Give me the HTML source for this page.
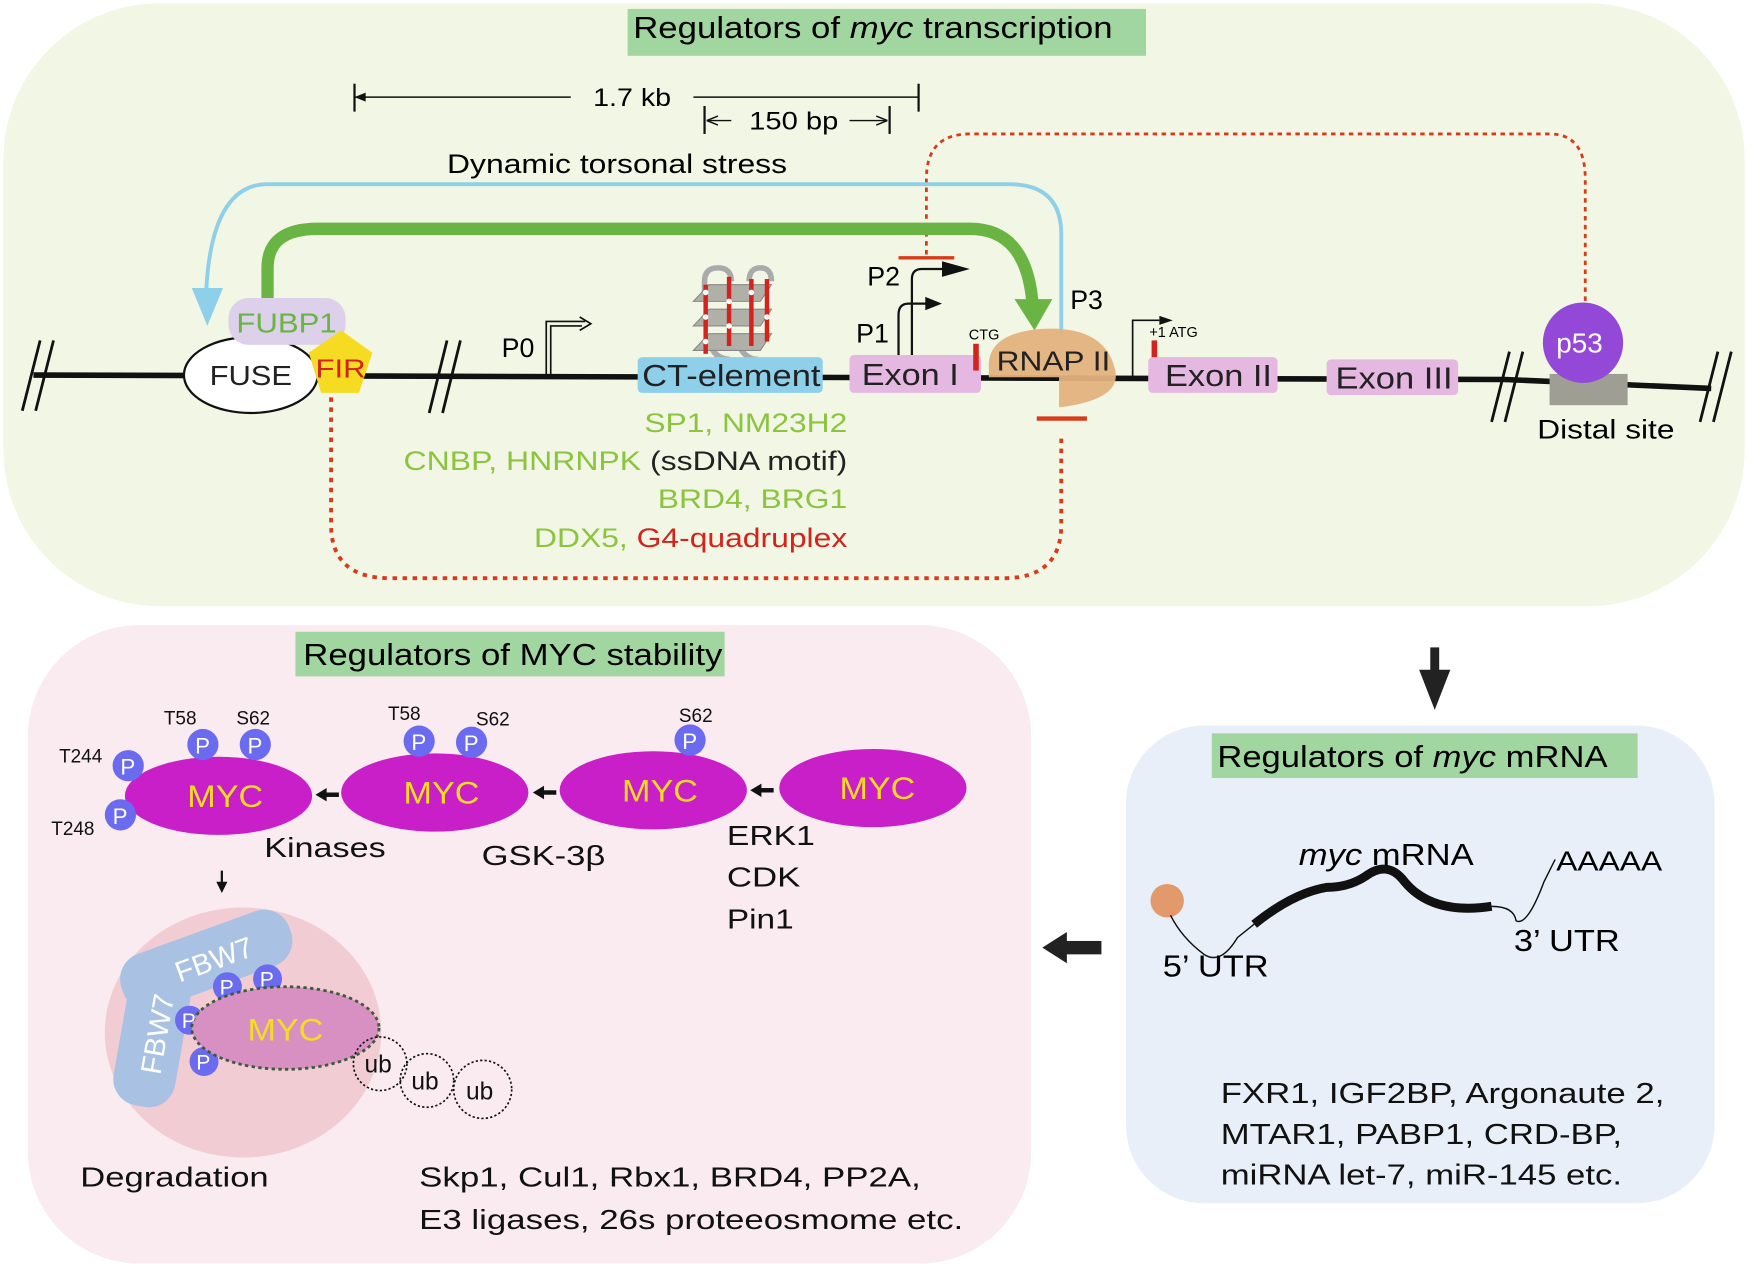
<!DOCTYPE html>
<html><head><meta charset="utf-8"><style>
html,body{margin:0;padding:0;background:#fff;}
svg{display:block;}
text{font-family:"Liberation Sans",sans-serif;}
</style></head><body>
<svg width="1748" height="1268" viewBox="0 0 1568 1136" preserveAspectRatio="none" xmlns="http://www.w3.org/2000/svg">
<!-- panels -->
<rect x="3" y="3" width="1562" height="540" rx="140" fill="#f1f7e4"/>
<rect x="25" y="560" width="900" height="572" rx="100" fill="#f9ebef"/>
<rect x="1010" y="650" width="528" height="428" rx="70" fill="#e9eff8"/>
<rect x="563" y="8" width="465" height="42" fill="#a2d6a0"/>
<text x="568" y="34" font-size="27" textLength="430" lengthAdjust="spacingAndGlyphs">Regulators of <tspan font-style="italic">myc</tspan> transcription</text>
<rect x="265" y="566" width="385" height="40" fill="#a2d6a0"/>
<text x="272" y="596" font-size="27" textLength="376" lengthAdjust="spacingAndGlyphs">Regulators of MYC stability</text>
<rect x="1087" y="657" width="382" height="40" fill="#a2d6a0"/>
<text x="1092" y="687" font-size="27" textLength="350" lengthAdjust="spacingAndGlyphs">Regulators of <tspan font-style="italic">myc</tspan> mRNA</text>

<!-- scale bars -->
<line x1="318" y1="75" x2="318" y2="100" stroke="#111" stroke-width="2"/>
<line x1="318" y1="87" x2="512" y2="87" stroke="#111" stroke-width="1.3"/>
<path d="M318,87 l10,-4 v8z" fill="#111"/>
<line x1="622" y1="87" x2="824" y2="87" stroke="#111" stroke-width="1.3"/>
<line x1="824" y1="75" x2="824" y2="100" stroke="#111" stroke-width="2"/>
<text x="532" y="95" font-size="22" textLength="70" lengthAdjust="spacingAndGlyphs">1.7 kb</text>
<line x1="632" y1="95" x2="632" y2="120" stroke="#111" stroke-width="2"/>
<line x1="798" y1="95" x2="798" y2="120" stroke="#111" stroke-width="2"/>
<line x1="634" y1="108" x2="656" y2="108" stroke="#111" stroke-width="1.3"/>
<path d="M634,108 l10,-4 M634,108 l10,4" stroke="#111" stroke-width="1.3"/>
<line x1="762" y1="108" x2="796" y2="108" stroke="#111" stroke-width="1.3"/>
<path d="M796,108 l-10,-4 M796,108 l-10,4" stroke="#111" stroke-width="1.3"/>
<text x="672" y="116" font-size="22" textLength="80" lengthAdjust="spacingAndGlyphs">150 bp</text>
<text x="401" y="155" font-size="24" textLength="305" lengthAdjust="spacingAndGlyphs">Dynamic torsonal stress</text>

<!-- red dotted p53 -->
<path d="M831,228 V160 Q831,120 870,120 H1390 Q1422,120 1422,160 V290" fill="none" stroke="#d93a1c" stroke-width="2.5" stroke-dasharray="4,4"/>
<line x1="806" y1="231" x2="856" y2="231" stroke="#d93a1c" stroke-width="3"/>
<!-- blue arc -->
<path d="M952,300 V210 Q952,165 905,165 H240 Q190,165 185,260" fill="none" stroke="#8ed0ea" stroke-width="3.5"/>
<path d="M172,258 L200,258 L186,292 z" fill="#8ed0ea"/>
<!-- green arc -->
<path d="M240,275 V240 Q240,205 285,205 H870 Q920,205 926,270" fill="none" stroke="#6ab444" stroke-width="11"/>
<path d="M910,268 L944,268 L928,296 z" fill="#6ab444"/>

<!-- DNA line -->
<path d="M30,336 L1350,340 L1535,348" fill="none" stroke="#111" stroke-width="5"/>
<g stroke="#111" stroke-width="2.5">
<line x1="20" y1="368" x2="36" y2="305"/><line x1="32" y1="368" x2="48" y2="305"/>
<line x1="385" y1="370" x2="401" y2="305"/><line x1="397" y1="370" x2="413" y2="305"/>
<line x1="1338" y1="378" x2="1354" y2="315"/><line x1="1350" y1="378" x2="1366" y2="315"/>
<line x1="1525" y1="378" x2="1541" y2="315"/><line x1="1537" y1="378" x2="1553" y2="315"/>
</g>
<!-- FUSE -->
<ellipse cx="225" cy="336" rx="60" ry="34" fill="#fff" stroke="#111" stroke-width="2"/>
<text x="188" y="345" font-size="25" fill="#222" textLength="74" lengthAdjust="spacingAndGlyphs">FUSE</text>
<rect x="205" y="267" width="105" height="42" rx="18" fill="#ddd0ea"/>
<text x="212" y="298" font-size="25" fill="#6ab444" textLength="90" lengthAdjust="spacingAndGlyphs">FUBP1</text>
<path d="M306,296 L334,316 L322,352 L288,352 L277,316 z" fill="#f5dc22"/>
<text x="283" y="338" font-size="23" fill="#d3231c" textLength="45" lengthAdjust="spacingAndGlyphs">FIR</text>
<!-- red dotted bottom -->
<path d="M297,356 V470 Q297,518 350,518 H900 Q952,518 952,470 V390" fill="none" stroke="#d93a1c" stroke-width="3.5" stroke-dasharray="4,5"/>
<line x1="930" y1="375" x2="975" y2="375" stroke="#d93a1c" stroke-width="4"/>

<!-- P0 -->
<path d="M490,336 V288 H525" fill="none" stroke="#111" stroke-width="1.5"/>
<path d="M494,336 V292 H522" fill="none" stroke="#111" stroke-width="1.5"/>
<path d="M520,284 L530,290 L520,296" fill="none" stroke="#111" stroke-width="1.5"/>
<text x="450" y="320" font-size="24">P0</text>
<!-- G4 -->
<g>
<path d="M632,262 V252 Q632,240 644,240 Q656,240 656,252 M672,252 Q672,240 682,240 Q692,240 692,252" fill="none" stroke="#aaa" stroke-width="5"/>
<path d="M636,305 Q640,322 655,322 M662,308 Q668,322 680,322" fill="none" stroke="#aaa" stroke-width="5"/>
<polygon points="636,255 692,255 682,270 622,270" fill="#b0b0a8" stroke="#888"/>
<polygon points="636,277 692,277 682,292 622,292" fill="#b0b0a8" stroke="#888"/>
<polygon points="636,299 692,299 682,314 622,314" fill="#b0b0a8" stroke="#888"/>
<rect x="631" y="255" width="4" height="62" fill="#d3231c"/>
<rect x="652" y="248" width="4" height="62" fill="#d3231c"/>
<rect x="672" y="250" width="4" height="60" fill="#d3231c"/>
<rect x="686" y="250" width="4" height="56" fill="#d3231c"/>
<g fill="#fff"><circle cx="633" cy="262" r="2.5"/><circle cx="633" cy="284" r="2.5"/><circle cx="633" cy="306" r="2.5"/><circle cx="654" cy="270" r="2.5"/><circle cx="654" cy="292" r="2.5"/><circle cx="674" cy="262" r="2.5"/><circle cx="688" cy="284" r="2.5"/></g>
</g>
<rect x="572" y="320" width="166" height="32" rx="4" fill="#8ed0ea"/>
<text x="576" y="346" font-size="27" fill="#222" textLength="160" lengthAdjust="spacingAndGlyphs">CT-element</text>
<text x="578" y="387" font-size="24" fill="#8cc43f" textLength="182" lengthAdjust="spacingAndGlyphs">SP1, NM23H2</text>
<text x="362" y="421" font-size="24" fill="#8cc43f" textLength="398" lengthAdjust="spacingAndGlyphs">CNBP, HNRNPK <tspan fill="#222">(ssDNA motif)</tspan></text>
<text x="590" y="455" font-size="24" fill="#8cc43f" textLength="170" lengthAdjust="spacingAndGlyphs">BRD4, BRG1</text>
<text x="479" y="490" font-size="24" fill="#8cc43f" textLength="281" lengthAdjust="spacingAndGlyphs">DDX5, <tspan fill="#d3231c">G4-quadruplex</tspan></text>

<!-- Exon I -->
<rect x="762" y="318" width="118" height="34" rx="4" fill="#e5b8e2"/>
<text x="773" y="345" font-size="27" fill="#222" textLength="87" lengthAdjust="spacingAndGlyphs">Exon I</text>
<path d="M806,318 V282 Q806,272 815,272 H832" fill="none" stroke="#111" stroke-width="2"/>
<path d="M830,266 L845,272 L830,278z" fill="#111"/>
<path d="M818,318 V250 Q818,241 827,241 H850" fill="none" stroke="#111" stroke-width="2"/>
<path d="M845,234 L870,241 L845,248z" fill="#111"/>
<text x="768" y="307" font-size="24">P1</text>
<text x="778" y="256" font-size="24">P2</text>
<text x="869" y="304" font-size="13">CTG</text>
<rect x="873" y="308" width="5" height="24" fill="#d3231c"/>
<!-- RNAP II -->
<path d="M887,330 Q885,300 930,295 Q990,290 1000,330 Q1008,358 950,365 V338 H887z" fill="#e3b27e" opacity="0.95"/>
<text x="894" y="332" font-size="25" fill="#222" textLength="102" lengthAdjust="spacingAndGlyphs">RNAP II</text>
<text x="960" y="277" font-size="24">P3</text>
<!-- P at exon II -->
<path d="M1016,338 V287 H1040" fill="none" stroke="#111" stroke-width="1.5"/>
<path d="M1040,283 L1052,287 L1040,291z" fill="#111"/>
<text x="1031" y="302" font-size="13">+1 ATG</text>
<rect x="1033" y="305" width="5" height="20" fill="#d3231c"/>
<rect x="1030" y="320" width="116" height="32" rx="4" fill="#e5b8e2"/>
<text x="1045" y="346" font-size="27" fill="#222" textLength="96" lengthAdjust="spacingAndGlyphs">Exon II</text>
<rect x="1190" y="322" width="118" height="32" rx="4" fill="#e5b8e2"/>
<text x="1198" y="348" font-size="27" fill="#222" textLength="105" lengthAdjust="spacingAndGlyphs">Exon III</text>
<!-- p53 -->
<rect x="1390" y="335" width="70" height="28" fill="#9e9e94"/>
<circle cx="1420" cy="307" r="36" fill="#9348d8"/>
<text x="1396" y="316" font-size="25" fill="#fff">p53</text>
<text x="1379" y="393" font-size="24" textLength="123" lengthAdjust="spacingAndGlyphs">Distal site</text>

<!-- Stability -->
<g font-size="28" fill="#f5dc22">
<ellipse cx="196" cy="713" rx="84" ry="35" fill="#c91fc8"/><text x="168" y="723" textLength="68" lengthAdjust="spacingAndGlyphs">MYC</text>
<ellipse cx="390" cy="710" rx="84" ry="35" fill="#c91fc8"/><text x="362" y="720" textLength="68" lengthAdjust="spacingAndGlyphs">MYC</text>
<ellipse cx="586" cy="708" rx="84" ry="35" fill="#c91fc8"/><text x="558" y="718" textLength="68" lengthAdjust="spacingAndGlyphs">MYC</text>
<ellipse cx="783" cy="706" rx="84" ry="35" fill="#c91fc8"/><text x="753" y="716" textLength="68" lengthAdjust="spacingAndGlyphs">MYC</text>
</g>
<g fill="#111">
<path d="M283,712 l10,-6 v12z"/><rect x="292" y="710" width="12" height="4"/>
<path d="M478,710 l10,-6 v12z"/><rect x="487" y="708" width="12" height="4"/>
<path d="M673,708 l10,-6 v12z"/><rect x="682" y="706" width="12" height="4"/>
</g>
<g fill="#6b6bef">
<circle cx="115" cy="686" r="14"/><circle cx="108" cy="730" r="14"/>
<circle cx="182" cy="667" r="14"/><circle cx="229" cy="667" r="14"/>
<circle cx="376" cy="664" r="14"/><circle cx="423" cy="665" r="14"/>
<circle cx="619" cy="663" r="14"/>
</g>
<g fill="#fff" font-size="20">
<text x="108" y="694">P</text><text x="101" y="738">P</text><text x="175" y="675">P</text><text x="222" y="675">P</text><text x="369" y="672">P</text><text x="416" y="673">P</text><text x="612" y="671">P</text>
</g>
<g font-size="17" fill="#111">
<text x="53" y="683">T244</text><text x="46" y="748">T248</text>
<text x="147" y="649">T58</text><text x="212" y="649">S62</text>
<text x="348" y="645">T58</text><text x="427" y="650">S62</text><text x="609" y="647">S62</text>
</g>
<g font-size="25" fill="#111">
<text x="237" y="768" textLength="109" lengthAdjust="spacingAndGlyphs">Kinases</text>
<text x="432" y="775" textLength="111" lengthAdjust="spacingAndGlyphs">GSK-3β</text>
<text x="652" y="757" textLength="79" lengthAdjust="spacingAndGlyphs">ERK1</text>
<text x="652" y="794" textLength="66" lengthAdjust="spacingAndGlyphs">CDK</text>
<text x="652" y="832" textLength="60" lengthAdjust="spacingAndGlyphs">Pin1</text>
<text x="72" y="1063" textLength="169" lengthAdjust="spacingAndGlyphs">Degradation</text>
<text x="376" y="1063" textLength="450" lengthAdjust="spacingAndGlyphs">Skp1, Cul1, Rbx1, BRD4, PP2A,</text>
<text x="376" y="1101" textLength="488" lengthAdjust="spacingAndGlyphs">E3 ligases, 26s proteeosmome etc.</text>
</g>
<line x1="199" y1="780" x2="199" y2="792" stroke="#111" stroke-width="2"/>
<path d="M194,790 L204,790 L199,800z" fill="#111"/>
<!-- degradation complex -->
<ellipse cx="218" cy="925" rx="124" ry="112" fill="#f1cdd3"/>
<rect x="-28" y="-67" width="56" height="134" rx="24" fill="#a9c2e4" transform="translate(137,925) rotate(10)"/>
<rect x="-80" y="-26" width="160" height="52" rx="24" fill="#a9c2e4" transform="translate(185,860) rotate(-20)"/>
<text font-size="26" fill="#fff" text-anchor="middle" transform="translate(195,868) rotate(-20)">FBW7</text>
<text font-size="26" fill="#fff" text-anchor="middle" transform="translate(150,928) rotate(-80)">FBW7</text>
<g fill="#6b6bef"><circle cx="204" cy="884" r="13"/><circle cx="240" cy="877" r="13"/><circle cx="170" cy="914" r="13"/><circle cx="183" cy="951" r="13"/></g>
<ellipse cx="256" cy="921" rx="84" ry="37" fill="#d890c3" stroke="#3b5c3b" stroke-width="2.5" stroke-dasharray="3,3"/>
<text x="222" y="932" font-size="28" fill="#f5dc22" textLength="68" lengthAdjust="spacingAndGlyphs">MYC</text>
<g fill="#fff" font-size="19"><text x="197" y="891">P</text><text x="233" y="884">P</text><text x="163" y="921">P</text><text x="176" y="958">P</text></g>
<g fill="none" stroke="#111" stroke-width="1.5" stroke-dasharray="2,2">
<circle cx="341" cy="953" r="24"/><circle cx="383" cy="968" r="24"/><circle cx="433" cy="976" r="26"/>
</g>
<g font-size="22" fill="#111"><text x="327" y="961">ub</text><text x="369" y="976">ub</text><text x="418" y="985">ub</text></g>

<!-- arrows between panels -->
<rect x="1283" y="580" width="8" height="22" fill="#222"/>
<path d="M1273,600 L1301,600 L1287,636z" fill="#222"/>
<rect x="955" y="843" width="33" height="12" fill="#222"/>
<path d="M957,835 L957,863 L935,849z" fill="#222"/>

<!-- mRNA -->
<circle cx="1047" cy="807" r="15" fill="#e29a6c"/>
<path d="M1050,820 Q1060,840 1080,855 Q1095,865 1110,840 L1125,828" fill="none" stroke="#111" stroke-width="1.3"/>
<path d="M1125,828 Q1160,800 1190,795 Q1210,795 1225,785 Q1245,770 1260,790 Q1285,820 1338,812" fill="none" stroke="#111" stroke-width="8"/>
<path d="M1338,812 Q1358,812 1360,825 Q1370,830 1385,790 L1395,770" fill="none" stroke="#111" stroke-width="1.3"/>
<text x="1165" y="775" font-size="27" textLength="157" lengthAdjust="spacingAndGlyphs"><tspan font-style="italic">myc</tspan> mRNA</text>
<text x="1396" y="780" font-size="25" textLength="95" lengthAdjust="spacingAndGlyphs">AAAAA</text>
<text x="1043" y="875" font-size="27" textLength="95" lengthAdjust="spacingAndGlyphs">5’ UTR</text>
<text x="1358" y="852" font-size="27" textLength="95" lengthAdjust="spacingAndGlyphs">3’ UTR</text>
<g font-size="26" fill="#111">
<text x="1095" y="988" textLength="398" lengthAdjust="spacingAndGlyphs">FXR1, IGF2BP, Argonaute 2,</text>
<text x="1095" y="1025" textLength="360" lengthAdjust="spacingAndGlyphs">MTAR1, PABP1, CRD-BP,</text>
<text x="1095" y="1061" textLength="360" lengthAdjust="spacingAndGlyphs">miRNA let-7, miR-145 etc.</text>
</g>
</svg>
</body></html>
